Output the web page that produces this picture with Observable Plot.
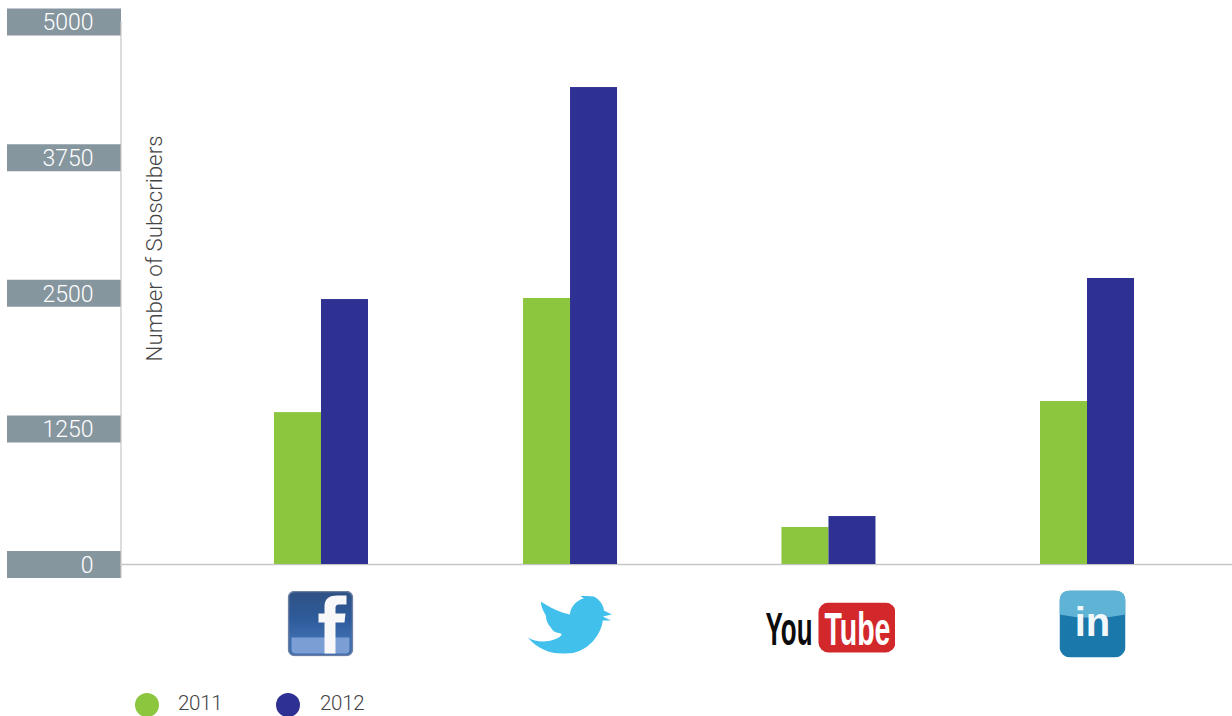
<!DOCTYPE html>
<html>
<head>
<meta charset="utf-8">
<script src="https://cdn.jsdelivr.net/npm/d3@7"></script>
<script src="https://cdn.jsdelivr.net/npm/@observablehq/plot@0.6"></script>
<style>
html,body{margin:0;padding:0;background:#fff;overflow:hidden;width:1232px;height:716px}
svg{display:block}
#legend{position:relative;height:26px;overflow:hidden;font:300 20.5px Roboto,sans-serif;letter-spacing:-.3px;color:#444}
#legend span{position:absolute;line-height:20px;top:3px}
#legend i{position:absolute;width:24px;height:24px;border-radius:50%;top:3px}
</style>
</head>
<body>
<div id="chart"></div>
<div id="legend"></div>
<script>
const platforms = ["Facebook", "Twitter", "YouTube", "LinkedIn"];
const years = ["2011", "2012"];
const values2011 = [1400, 2452, 341, 1502];
const values2012 = [2442, 4396, 442, 2636];
const yTicks = [0, 1250, 2500, 3750, 5000];
const yLabel = "Number of Subscribers";
const colors = {"2011": "#8cc63f", "2012": "#2e3192"};

const nudge = {Facebook: 0, Twitter: -6.3, YouTube: -3.2, LinkedIn: 0};
const rows = platforms.flatMap((p, i) => [
  {platform: p, year: "2011", value: values2011[i]},
  {platform: p, year: "2012", value: values2012[i]}
]);

const uri = s => "data:image/svg+xml," + encodeURIComponent(s);
const logos = {
  Facebook: {w: 66, h: 66, shift: -1, cy: 623, src: uri(`<svg xmlns="http://www.w3.org/2000/svg" viewBox="-1 -1 66 66"><defs><linearGradient id="g" x1="0" y1="0" x2="0" y2="1"><stop offset="0" stop-color="#2f5184"/><stop offset=".45" stop-color="#2e5c9c"/><stop offset=".72" stop-color="#3d6cae"/></linearGradient></defs><rect x="0" y="0" width="64" height="64" rx="6" fill="url(#g)" stroke="#6d7fa3" stroke-width="1.5"/><path d="M3 46 H61 V58 Q61 62 57 62 H7 Q3 62 3 58 Z" fill="#7b9fd4"/><path d="M36 62 V31 H30 V22 H36 V15 C36 7 41 4 49 4 H58 V13 H51 C48 13 47 14 47 17 V22 H57 L56 31 H47 V62 Z" fill="#f8f8fa"/></svg>`)},
  Twitter: {w: 84, h: 58, shift: -7, cy: 624, src: uri(`<svg xmlns="http://www.w3.org/2000/svg" viewBox="0 0 84 58"><path d="M0 42 C8 47 20 47 29 43 C33 41 35 39 33 38 C28 37 25 36 23 32 C20 29 18 24 18 20 C15 15 13 10 13 6 C22 12 32 17 42 19 C43 10 50 4 56 3 L52 0 L66 1 C72 4 76 10 76 15 L84 19 L75 21 L83 25 L75 25 C73 40 60 56 42 58 C25 60 10 54 0 42 Z" fill="#41c0ec"/></svg>`)},
  YouTube: {w: 130, h: 51, shift: -1.7, cy: 627.5, src: uri(`<svg xmlns="http://www.w3.org/2000/svg" viewBox="0 0 130 51"><rect x="53" y="0" width="77" height="50" rx="10" fill="#d2282b"/><text x="0" y="42" font-family="Liberation Sans Narrow, Liberation Sans" font-weight="700" font-size="46" fill="#0c0c0c" textLength="47" lengthAdjust="spacingAndGlyphs">You</text><text x="59" y="42" font-family="Liberation Sans Narrow, Liberation Sans" font-weight="700" font-size="47" fill="#fff" textLength="66" lengthAdjust="spacingAndGlyphs">Tube</text></svg>`)},
  LinkedIn: {w: 66, h: 67, shift: 5, cy: 623.5, src: uri(`<svg xmlns="http://www.w3.org/2000/svg" viewBox="0 0 66 67"><rect width="66" height="67" rx="11" fill="#1b78ab"/><path d="M0 24 V11 Q0 0 11 0 H55 Q66 0 66 11 V24 Q33 31 0 24 Z" fill="#5fb4d6"/><text x="33" y="45" text-anchor="middle" font-family="Liberation Sans" font-weight="700" font-size="40" fill="#f2f7fa">in</text></svg>`)}
};

const bandW = 255.33, barW = 47;
const inner = bandW / 2 - barW;
const barMarks = platforms.flatMap(p => {
  const sel = rows.filter(r => r.platform === p);
  return [
    Plot.barY(sel.filter(r => r.year === "2011"), {x: "platform", y: "value", fill: colors["2011"], insetLeft: inner, insetRight: bandW / 2, dx: nudge[p]}),
    Plot.barY(sel.filter(r => r.year === "2012"), {x: "platform", y: "value", fill: colors["2012"], insetLeft: bandW / 2, insetRight: inner, dx: nudge[p]})
  ];
});
const logoMarks = platforms.map(p => {
  const l = logos[p];
  return Plot.image([p], {x: d => d, frameAnchor: "top", dy: l.cy, dx: l.shift, src: l.src, width: l.w, height: l.h, preserveAspectRatio: "none"});
});

const chart = Plot.plot({
  width: 1232,
  height: 690,
  marginTop: 0,
  marginBottom: 0,
  marginLeft: 7,
  marginRight: 0,
  x: {type: "band", domain: platforms, range: [193.33, 1214.67], padding: 0, round: false, axis: null},
  y: {domain: [0, 5000], range: [564, 21.5], axis: null},
  marks: [
    Plot.ruleY(yTicks, {y: d => d, stroke: "#86969f", strokeWidth: 27, insetRight: 1111}),
    Plot.ruleX(["Facebook"], {x: d => d, y1: 0, y2: 5000, insetTop: 13.5, dx: 120.5 - 321, stroke: "#c6c6c6", strokeWidth: 1.2}),
    Plot.ruleY([0], {stroke: "#c6c6c6", strokeWidth: 1.5, insetLeft: 113}),
    ...barMarks,
    Plot.text(yTicks, {y: d => d, text: d => String(d), frameAnchor: "left", textAnchor: "end", dx: 86, dy: 1, fill: "#fff", fontSize: 23, fontWeight: 300, fontFamily: "Roboto"}),
    Plot.text([yLabel], {text: d => d, frameAnchor: "top-left", dx: 139, dy: 248, rotate: -90, textAnchor: "middle", fill: "#444", fontSize: 22.3, fontWeight: 300, fontFamily: "Roboto"}),
    ...logoMarks
  ]
});
document.getElementById("chart").append(chart);

const legend = document.getElementById("legend");
const legendX = {"2011": [135, 178], "2012": [276, 320]};
years.forEach(y => {
  const i = document.createElement("i");
  i.style.left = legendX[y][0] + "px";
  i.style.background = colors[y];
  const s = document.createElement("span");
  s.style.left = legendX[y][1] + "px";
  s.textContent = y;
  legend.append(i, s);
});
</script>
</body>
</html>
